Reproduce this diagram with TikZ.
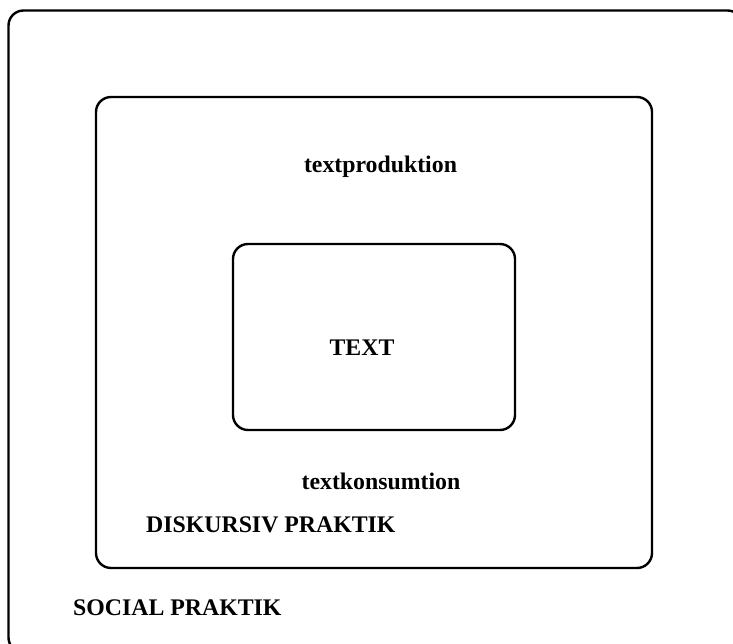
\documentclass[tikz,border=0pt]{standalone}
\usepackage{fontspec}
\setmainfont{Liberation Serif}
\usetikzlibrary{positioning}

\begin{document}
\begin{tikzpicture}[x=1pt,y=-1pt,line width=2.4pt,
                    font=\fontsize{23.8}{28}\selectfont\bfseries]
  \tikzstyle{frame}=[draw,rounded corners=15pt,inner sep=0pt]
  \tikzstyle{label}=[inner sep=0pt]

  \useasboundingbox (0,0) rectangle (733,644);

  \node[frame,minimum width=734pt,minimum height=642pt] (social) at (375.5,331.5) {};
  \node[frame,minimum width=556pt,minimum height=471pt] (diskursiv) at (374,332.5) {};
  \node[frame,minimum width=282pt,minimum height=186pt] (text) at (374,337) {};

  \node[label,anchor=base]      (prod) at (380.5,173) {textproduktion};
  \node[label,anchor=base]      (txt)  at (362,355)   {TEXT};
  \node[label,anchor=base]      (kons) at (381,489)   {textkonsumtion};
  \node[label,anchor=base west] (dp)   at (145,532)   {DISKURSIV PRAKTIK};
  \node[label,anchor=base west] (sp)   at (72,615)    {SOCIAL PRAKTIK};

\end{tikzpicture}
\end{document}
